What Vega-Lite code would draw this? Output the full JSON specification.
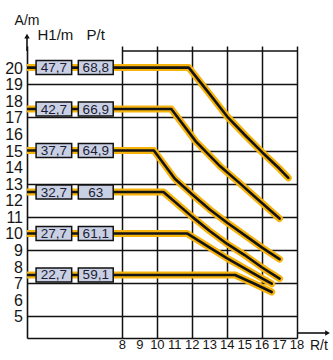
{
  "$schema": "https://vega.github.io/schema/vega-lite/v6.json",
  "width": 270,
  "height": 292,
  "autosize": {"type": "none"},
  "padding": {"left": 27, "top": 46, "right": 36, "bottom": 22},
  "background": "#ffffff",
  "config": {
    "view": {"stroke": null},
    "font": "Liberation Sans",
    "axis": {"labels": false, "grid": true, "gridColor": "#111111", "gridWidth": 1.5, "gridOpacity": 1, "domainColor": "#111111", "domainWidth": 1.6, "ticks": false, "title": null}
  },
  "datasets": {
    "curves": [
      {"s": "a", "R": 2.53, "A": 20}, {"s": "a", "R": 11.8, "A": 20}, {"s": "a", "R": 13, "A": 18.4}, {"s": "a", "R": 14, "A": 17.05}, {"s": "a", "R": 15, "A": 15.95}, {"s": "a", "R": 16, "A": 14.9}, {"s": "a", "R": 17, "A": 13.9}, {"s": "a", "R": 17.5, "A": 13.35},
      {"s": "b", "R": 2.53, "A": 17.5}, {"s": "b", "R": 10.8, "A": 17.5}, {"s": "b", "R": 12.2, "A": 15.55}, {"s": "b", "R": 13.6, "A": 14.05}, {"s": "b", "R": 14.7, "A": 13.05}, {"s": "b", "R": 15.6, "A": 12.2}, {"s": "b", "R": 17, "A": 10.9},
      {"s": "c", "R": 2.53, "A": 15}, {"s": "c", "R": 9.8, "A": 15}, {"s": "c", "R": 11, "A": 13.3}, {"s": "c", "R": 12, "A": 12.35}, {"s": "c", "R": 13, "A": 11.45}, {"s": "c", "R": 14, "A": 10.65}, {"s": "c", "R": 15, "A": 9.9}, {"s": "c", "R": 16, "A": 9.15}, {"s": "c", "R": 17, "A": 8.45},
      {"s": "d", "R": 2.53, "A": 12.5}, {"s": "d", "R": 10.35, "A": 12.5}, {"s": "d", "R": 12, "A": 11.0}, {"s": "d", "R": 13, "A": 10.15}, {"s": "d", "R": 14, "A": 9.37}, {"s": "d", "R": 15, "A": 8.7}, {"s": "d", "R": 16, "A": 7.95}, {"s": "d", "R": 17, "A": 7.28},
      {"s": "e", "R": 2.53, "A": 10}, {"s": "e", "R": 11.7, "A": 10}, {"s": "e", "R": 13, "A": 9.15}, {"s": "e", "R": 14, "A": 8.5}, {"s": "e", "R": 15, "A": 7.9}, {"s": "e", "R": 16, "A": 7.3}, {"s": "e", "R": 16.55, "A": 6.97},
      {"s": "f", "R": 2.53, "A": 7.5}, {"s": "f", "R": 14.45, "A": 7.5}, {"s": "f", "R": 15.5, "A": 7.0}, {"s": "f", "R": 16.55, "A": 6.47}
    ],
    "boxes": [
      {"level": 20, "h": "47,7", "p": "68,8"},
      {"level": 17.5, "h": "42,7", "p": "66,9"},
      {"level": 15, "h": "37,7", "p": "64,9"},
      {"level": 12.5, "h": "32,7", "p": "63"},
      {"level": 10, "h": "27,7", "p": "61,1"},
      {"level": 7.5, "h": "22,7", "p": "59,1"}
    ],
    "xticks": [{"v": 8}, {"v": 9}, {"v": 10}, {"v": 11}, {"v": 12}, {"v": 13}, {"v": 14}, {"v": 15}, {"v": 16}, {"v": 17}, {"v": 18}],
    "yticks": [{"v": 5}, {"v": 6}, {"v": 7}, {"v": 8}, {"v": 9}, {"v": 10}, {"v": 11}, {"v": 12}, {"v": 13}, {"v": 14}, {"v": 15}, {"v": 16}, {"v": 17}, {"v": 18}, {"v": 19}, {"v": 20}]
  },
  "layer": [
    {
      "data": {"name": "curves"},
      "mark": {"type": "line", "stroke": "#f6b30c", "strokeWidth": 7, "strokeCap": "round", "strokeJoin": "round", "clip": true},
      "encoding": {
        "x": {"field": "R", "type": "quantitative", "scale": {"domain": [2.53, 18], "nice": false, "zero": false},
          "axis": {"values": [8, 9, 10, 11, 12, 13, 14, 15, 16, 17, 18]}},
        "y": {"field": "A", "type": "quantitative", "scale": {"domain": [4, 21], "nice": false, "zero": false},
          "axis": {"values": [5, 6, 7, 8, 9, 10, 11, 12, 13, 14, 15, 16, 17, 18, 19, 20]}},
        "detail": {"field": "s"}
      }
    },
    {
      "data": {"name": "curves"},
      "mark": {"type": "line", "stroke": "#141414", "strokeWidth": 2.6, "strokeCap": "round", "strokeJoin": "round", "clip": true},
      "encoding": {
        "x": {"field": "R", "type": "quantitative"},
        "y": {"field": "A", "type": "quantitative"},
        "detail": {"field": "s"}
      }
    },
    {
      "data": {"name": "xticks"},
      "mark": {"type": "text", "fontSize": 13, "fill": "#151515", "align": "center", "baseline": "top", "dy": 6, "clip": false},
      "encoding": {"x": {"field": "v", "type": "quantitative"}, "y": {"datum": 4}, "text": {"field": "v", "type": "quantitative"}}
    },
    {
      "data": {"name": "yticks"},
      "mark": {"type": "text", "fontSize": 16, "fill": "#151515", "align": "right", "baseline": "middle", "dx": -4, "dy": 1, "clip": false},
      "encoding": {"x": {"datum": 2.53}, "y": {"field": "v", "type": "quantitative"}, "text": {"field": "v", "type": "quantitative"}}
    },
    {
      "data": {"values": [{}]},
      "mark": {"type": "rule", "stroke": "#111111", "strokeWidth": 1.5},
      "encoding": {"x": {"datum": 8}, "x2": {"datum": 18}, "y": {"datum": 21}}
    },
    {
      "data": {"values": [{}]},
      "mark": {"type": "rule", "stroke": "#111111", "strokeWidth": 1.6, "clip": false},
      "encoding": {"x": {"datum": 2.53}, "y": {"datum": 21}, "y2": {"datum": 21.9}}
    },
    {
      "data": {"values": [{}]},
      "mark": {"type": "point", "shape": "triangle-up", "filled": true, "fill": "#111111", "size": 30, "opacity": 1, "clip": false},
      "encoding": {"x": {"datum": 2.53}, "y": {"datum": 21.9}}
    },
    {
      "data": {"values": [{}]},
      "mark": {"type": "rule", "stroke": "#111111", "strokeWidth": 1.6, "clip": false},
      "encoding": {"x": {"datum": 18}, "x2": {"datum": 19.7}, "y": {"datum": 4}}
    },
    {
      "data": {"values": [{}]},
      "mark": {"type": "point", "shape": "triangle-right", "filled": true, "fill": "#111111", "size": 30, "opacity": 1, "clip": false},
      "encoding": {"x": {"datum": 19.75}, "y": {"datum": 4}}
    },
    {
      "data": {"name": "boxes"},
      "mark": {"type": "bar", "orient": "horizontal", "height": 14, "fill": "#c9d0e4", "stroke": "#111111", "strokeWidth": 1.5},
      "encoding": {"x": {"datum": 3.05}, "x2": {"datum": 5.09}, "y": {"field": "level", "type": "quantitative"}}
    },
    {
      "data": {"name": "boxes"},
      "mark": {"type": "bar", "orient": "horizontal", "height": 14, "fill": "#c9d0e4", "stroke": "#111111", "strokeWidth": 1.5},
      "encoding": {"x": {"datum": 5.47}, "x2": {"datum": 7.47}, "y": {"field": "level", "type": "quantitative"}}
    },
    {
      "data": {"name": "boxes"},
      "mark": {"type": "text", "fontSize": 13.5, "fill": "#1c1c33", "align": "center", "baseline": "middle", "dy": 0.5},
      "encoding": {"x": {"datum": 4.07}, "y": {"field": "level", "type": "quantitative"}, "text": {"field": "h"}}
    },
    {
      "data": {"name": "boxes"},
      "mark": {"type": "text", "fontSize": 13.5, "fill": "#1c1c33", "align": "center", "baseline": "middle", "dy": 0.5},
      "encoding": {"x": {"datum": 6.47}, "y": {"field": "level", "type": "quantitative"}, "text": {"field": "p"}}
    },
    {
      "data": {"values": [{}]},
      "mark": {"type": "text", "fontSize": 14, "fill": "#151515", "align": "center", "baseline": "alphabetic", "clip": false},
      "encoding": {"x": {"datum": 2.53}, "y": {"datum": 22.56}, "text": {"value": "A/m"}}
    },
    {
      "data": {"values": [{}]},
      "mark": {"type": "text", "fontSize": 15, "fill": "#151515", "align": "center", "baseline": "alphabetic"},
      "encoding": {"x": {"datum": 4.16}, "y": {"datum": 21.65}, "text": {"value": "H1/m"}}
    },
    {
      "data": {"values": [{}]},
      "mark": {"type": "text", "fontSize": 15, "fill": "#151515", "align": "center", "baseline": "alphabetic"},
      "encoding": {"x": {"datum": 6.47}, "y": {"datum": 21.65}, "text": {"value": "P/t"}}
    },
    {
      "data": {"values": [{}]},
      "mark": {"type": "text", "fontSize": 14, "fill": "#151515", "align": "center", "baseline": "alphabetic", "clip": false},
      "encoding": {"x": {"datum": 19.25}, "y": {"datum": 2.97}, "text": {"value": "R/t"}}
    }
  ]
}
